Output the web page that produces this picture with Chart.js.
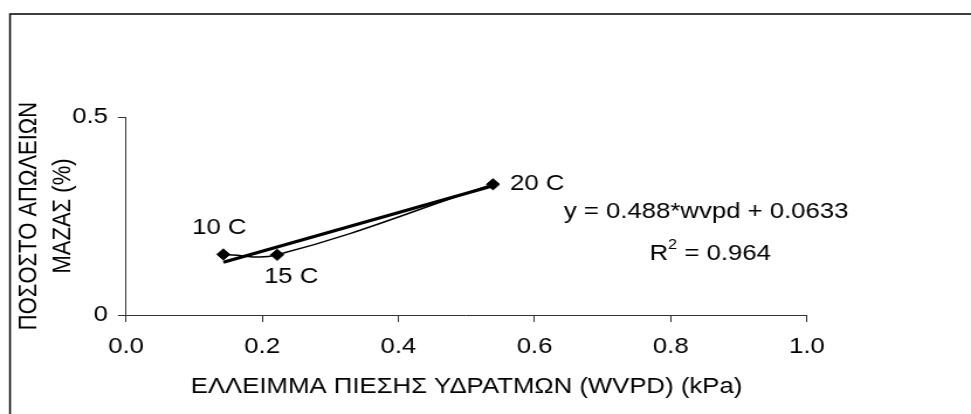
<!DOCTYPE html>
<html>
<head>
<meta charset="utf-8">
<script src="https://cdn.jsdelivr.net/npm/chart.js@4.4.0/dist/chart.umd.min.js"></script>
<style>
  html, body { margin: 0; padding: 0; background: #fff; overflow: hidden; }
  #wrap { width: 971px; height: 414px; overflow: hidden; }
  /* the figure is laid out a little narrow and widened, like a resized Excel chart */
  #wvpdChart { transform-origin: 0 0; }
</style>
</head>
<body>
<div id="wrap"><canvas id="wvpdChart" height="414"></canvas></div>
<script>
// measured points: water vapour pressure deficit (kPa) vs mass loss (%)
const wvpd = [0.143, 0.222, 0.539];
const massLoss = [0.153, 0.152, 0.330];
const pointLabels = ['10 C', '15 C', '20 C'];

const xTicks = [0, 0.2, 0.4, 0.6, 0.8, 1.0];
const yTicks = [0, 0.5];

// linear fit as reported on the chart
const fitSlope = 0.488;
const fitIntercept = 0.0633;
const fitR2 = 0.964;

const FAMILY = '"Liberation Sans", Arial, sans-serif';
const FONT_SIZE = 22;
const AXIS_COLOR = '#333';

const PAGE_W = 971;
const STRETCH = 1.17;
const W = Math.round(PAGE_W / STRETCH);
const sx = v => v / STRETCH;   // page px -> canvas px along x

const canvas = document.getElementById('wvpdChart');
canvas.width = W;
canvas.style.transform = 'scaleX(' + (PAGE_W / W) + ')';

Chart.defaults.font.family = FAMILY;
Chart.defaults.font.size = FONT_SIZE;
Chart.defaults.color = '#000';

const fitStart = Math.min(...wvpd);
const fitEnd = Math.max(...wvpd);

// frame, point names and the regression text
const annotate = {
  id: 'annotate',
  beforeDraw(chart) {
    const ctx = chart.ctx;
    ctx.save();
    ctx.fillStyle = '#fff';
    ctx.fillRect(0, 0, chart.width, chart.height);
    ctx.strokeStyle = '#000';
    ctx.lineWidth = 1.5;
    ctx.strokeRect(sx(10), 14, chart.width + 20, chart.height + 20);
    ctx.restore();
  },
  afterDatasetsDraw(chart) {
    const { ctx, scales: { x, y } } = chart;
    ctx.save();
    ctx.font = FONT_SIZE + 'px ' + FAMILY;
    ctx.fillStyle = '#000';
    ctx.textBaseline = 'middle';

    const offsets = [[sx(-4), -26, 'center'], [sx(14), 22, 'center'], [sx(17), 0, 'left']];
    pointLabels.forEach((txt, i) => {
      const [dx, dy, align] = offsets[i];
      ctx.textAlign = align;
      ctx.fillText(txt, x.getPixelForValue(wvpd[i]) + dx, y.getPixelForValue(massLoss[i]) + dy);
    });

    ctx.textAlign = 'center';
    ctx.fillText('y = ' + fitSlope + '*wvpd + ' + fitIntercept,
      x.getPixelForValue(0.852), y.getPixelForValue(0.259));

    // R² line with a raised 2
    const cx = x.getPixelForValue(0.858);
    const cy = y.getPixelForValue(0.155);
    const supFont = Math.round(FONT_SIZE * 0.62) + 'px ' + FAMILY;
    const rest = ' = ' + fitR2;
    const wR = ctx.measureText('R').width;
    const wRest = ctx.measureText(rest).width;
    ctx.font = supFont;
    const wSup = ctx.measureText('2').width;
    const left = cx - (wR + wSup + wRest) / 2;
    ctx.textAlign = 'left';
    ctx.font = FONT_SIZE + 'px ' + FAMILY;
    ctx.fillText('R', left, cy);
    ctx.font = supFont;
    ctx.fillText('2', left + wR, cy - 8);
    ctx.font = FONT_SIZE + 'px ' + FAMILY;
    ctx.fillText(rest, left + wR + wSup, cy);
    ctx.restore();
  }
};

new Chart(canvas, {
  type: 'scatter',
  data: {
    datasets: [
      {
        label: 'fit',
        data: [
          { x: fitStart, y: fitSlope * fitStart + fitIntercept },
          { x: fitEnd, y: fitSlope * fitEnd + fitIntercept }
        ],
        showLine: true,
        borderColor: '#000',
        borderWidth: 3.2,
        pointRadius: 0,
        order: 1
      },
      {
        label: 'mass loss',
        data: wvpd.map((v, i) => ({ x: v, y: massLoss[i] })),
        showLine: true,
        tension: 0.4,
        borderColor: '#000',
        borderWidth: 1.5,
        pointStyle: 'rectRot',
        pointRadius: 5.6,
        pointBackgroundColor: '#000',
        pointBorderColor: '#000',
        pointBorderWidth: 1,
        order: 0
      }
    ]
  },
  options: {
    responsive: false,
    animation: false,
    events: [],
    layout: { padding: { top: 117, right: W - sx(807), bottom: 0, left: 0 } },
    plugins: { legend: { display: false }, tooltip: { enabled: false } },
    scales: {
      x: {
        type: 'linear',
        min: 0,
        max: 1,
        afterBuildTicks: s => { s.ticks = xTicks.map(v => ({ value: v })); },
        afterFit: s => { s.height = 99; },
        ticks: { padding: 12, callback: v => Number(v).toFixed(1), maxRotation: 0 },
        grid: { drawOnChartArea: false, drawTicks: true, tickLength: 7, color: AXIS_COLOR, lineWidth: 1 },
        border: { display: true, color: AXIS_COLOR, width: 1 },
        title: {
          display: true,
          text: 'ΕΛΛΕΙΜΜΑ ΠΙΕΣΗΣ ΥΔΡΑΤΜΩΝ (WVPD) (kPa)',
          padding: { top: 0, bottom: 14 },
          font: { size: FONT_SIZE }
        }
      },
      y: {
        type: 'linear',
        min: 0,
        max: 0.5,
        afterBuildTicks: s => { s.ticks = yTicks.map(v => ({ value: v })); },
        afterFit: s => { s.width = sx(126); },
        ticks: { padding: sx(10), callback: v => String(v) },
        grid: { drawOnChartArea: false, drawTicks: true, tickLength: sx(8), color: AXIS_COLOR, lineWidth: 1 },
        border: { display: true, color: AXIS_COLOR, width: 1 },
        title: {
          display: true,
          text: ['ΠΟΣΟΣΤΟ ΑΠΩΛΕΙΩΝ', 'ΜΑΖΑΣ (%)'],
          padding: { top: sx(29) - sx(34) / 2, bottom: 0 },
          font: { size: FONT_SIZE, lineHeight: sx(34) / FONT_SIZE }
        }
      }
    }
  },
  plugins: [annotate]
});
</script>
</body>
</html>
